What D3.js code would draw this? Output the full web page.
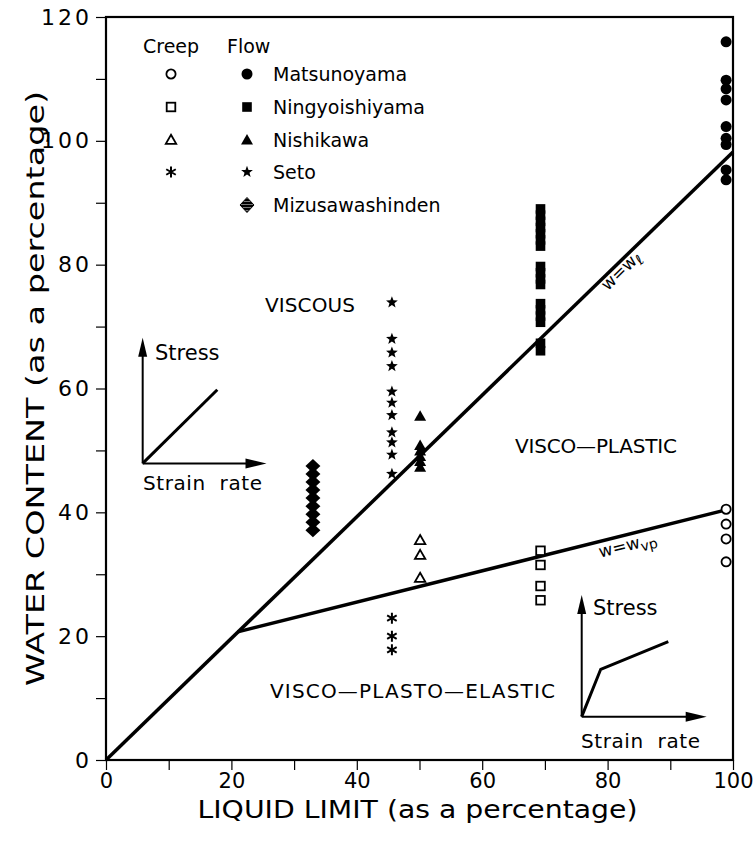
<!DOCTYPE html>
<html><head><meta charset="utf-8">
<script src="https://cdn.jsdelivr.net/npm/d3@7"></script>
<style>
body{margin:0;background:#fff;}
svg{display:block;font-family:"DejaVu Sans",sans-serif;}
</style></head>
<body>
<svg id="chart" width="755" height="841"></svg>
<script>
// ---------- data ----------
const xTickValues = [0,10,20,30,40,50,60,70,80,90,100];
const yTickValues = [0,10,20,30,40,50,60,70,80,90,100,110,120];
const xLabelTicks = [0,20,40,60,80,100];
const yLabelTicks = [0,20,40,60,80,100,120];

// liquid limits of each site
const llMatsunoyama = 98.9;
const llNingyoishiyama = 69.3;
const llNishikawa = 50.1;
const llSeto = 45.6;
const llMizusawashinden = 33.0;

// water contents (flow = filled, creep = open)
const matsunoyamaFlow = [116.0,109.8,108.4,106.6,102.3,100.4,99.4,95.3,93.7];
const matsunoyamaCreep = [40.5,38.1,35.7,32.0];
const ningyoishiyamaFlow = [89,88,87,86,85,84,83,79.7,78.7,77.7,76.8,73.7,72.7,71.7,70.7,67.3,66.1];
const ningyoishiyamaCreep = [33.8,31.5,28.1,25.8];
const nishikawaFlow = [55.5,50.8,49.9,49.0,48.2,47.3];
const nishikawaCreep = [35.5,33.1,29.4];
const setoFlow = [73.9,68.0,65.8,63.6,59.5,57.7,55.7,52.9,51.3,49.3,46.2];
const setoCreep = [22.9,20.0,17.8];
const mizusawashindenFlow = [47.5,46.2,44.9,43.6,42.3,41.0,39.7,38.4,37.1];

// boundary lines
const lineWL = [[0,0],[100,98.2]];
const lineWVP = [[21,20.7],[98.9,40.4]];

const legendSites = ["Matsunoyama","Ningyoishiyama","Nishikawa","Seto","Mizusawashinden"];

// ---------- layout ----------
const svg = d3.select("#chart");
const L=106, R=733, T=17, B=760;
const x = d3.scaleLinear().domain([0,100]).range([L,R]);
const y = d3.scaleLinear().domain([0,120]).range([B,T]);

// pattern for legend diamond
const defs = svg.append("defs");
const pat = defs.append("pattern").attr("id","hatch").attr("patternUnits","userSpaceOnUse")
  .attr("width",4).attr("height",3);
pat.append("rect").attr("width",4).attr("height",3).attr("fill","#000");
pat.append("rect").attr("y",2).attr("width",4).attr("height",1).attr("fill","#777");

// axes
const xAxis = d3.axisBottom(x).tickValues(xTickValues).tickSize(10).tickPadding(3)
  .tickFormat(d => xLabelTicks.includes(d) ? d : "");
const yAxis = d3.axisLeft(y).tickValues(yTickValues).tickSize(10).tickPadding(4)
  .tickFormat(d => yLabelTicks.includes(d) ? d : "");
const gx = svg.append("g").attr("transform",`translate(0,${B})`).call(xAxis);
const gy = svg.append("g").attr("transform",`translate(${L},0)`).call(yAxis);
[gx,gy].forEach(g=>{
  g.select(".domain").remove();
  g.selectAll(".tick line").attr("stroke","#000").attr("stroke-width",1.2);
  g.selectAll(".tick text").attr("font-size",22).attr("fill","#000")
   .attr("font-family","DejaVu Sans");
});
gy.selectAll(".tick text").attr("letter-spacing",3);
gx.selectAll(".tick text").attr("font-size",21);

// frame
svg.append("rect").attr("x",L).attr("y",T).attr("width",R-L).attr("height",B-T)
  .attr("fill","none").attr("stroke","#000").attr("stroke-width",2.2);

// axis titles
svg.append("text").attr("x",(L+R)/2-2).attr("y",818).attr("text-anchor","middle")
  .attr("font-size",25).attr("textLength",440).attr("lengthAdjust","spacingAndGlyphs")
  .text("LIQUID LIMIT (as a percentage)");
svg.append("text").attr("transform",`translate(44,${(T+B)/2}) rotate(-90)`)
  .attr("text-anchor","middle").attr("font-size",25)
  .attr("textLength",595).attr("lengthAdjust","spacingAndGlyphs")
  .text("WATER CONTENT (as a percentage)");

// boundary lines
const line = d3.line().x(d=>x(d[0])).y(d=>y(d[1]));
svg.append("path").attr("d",line(lineWL)).attr("fill","none").attr("stroke","#000").attr("stroke-width",3.5);
svg.append("path").attr("d",line(lineWVP)).attr("fill","none").attr("stroke","#000").attr("stroke-width",3.5);

// ---------- marker generators ----------
function star(r){ // five-pointed star
  const pts=[]; for(let i=0;i<10;i++){const a=-Math.PI/2+i*Math.PI/5; const rr=i%2? r*0.42:r; pts.push([rr*Math.cos(a),rr*Math.sin(a)]);}
  return "M"+pts.map(p=>p.join(",")).join("L")+"Z";
}
function tri(r){ return `M0,${-r}L${r*1.0},${r*0.75}L${-r*1.0},${r*0.75}Z`; }
function diamond(w,h){ return `M0,${-h}L${w},0L0,${h}L${-w},0Z`; }
function asterisk(r){
  const a=Math.PI/6;
  return `M0,${-r}L0,${r}M${-r*Math.cos(a)},${-r*Math.sin(a)}L${r*Math.cos(a)},${r*Math.sin(a)}M${-r*Math.cos(a)},${r*Math.sin(a)}L${r*Math.cos(a)},${-r*Math.sin(a)}`;
}
const markers = {
  circleF: s=>s.append("circle").attr("r",5.5).attr("fill","#000"),
  circleO: s=>s.append("circle").attr("r",4.6).attr("fill","#fff").attr("stroke","#000").attr("stroke-width",1.8),
  squareF: s=>s.append("rect").attr("x",-4.8).attr("y",-4.8).attr("width",9.6).attr("height",9.6).attr("fill","#000"),
  squareO: s=>s.append("rect").attr("x",-4.3).attr("y",-4.3).attr("width",8.6).attr("height",8.6).attr("fill","#fff").attr("stroke","#000").attr("stroke-width",1.8),
  triF: s=>s.append("path").attr("d",tri(6)).attr("fill","#000"),
  triO: s=>s.append("path").attr("d",tri(5.2)).attr("fill","#fff").attr("stroke","#000").attr("stroke-width",1.8),
  starF: s=>s.append("path").attr("d",star(6.2)).attr("fill","#000"),
  asterisk: s=>s.append("path").attr("d",asterisk(5.5)).attr("fill","none").attr("stroke","#000").attr("stroke-width",2),
  diamondF: s=>s.append("path").attr("d",diamond(7.5,7)).attr("fill","#000"),
  diamondL: s=>s.append("path").attr("d",diamond(7,7.5)).attr("fill","url(#hatch)").attr("stroke","#000").attr("stroke-width",1)
};

function plotSeries(ll, vals, kind){
  const g = svg.append("g");
  vals.forEach(v=>{
    const m = g.append("g").attr("transform",`translate(${x(ll)},${y(v)})`);
    markers[kind](m);
  });
}
plotSeries(llMizusawashinden, mizusawashindenFlow, "diamondF");
plotSeries(llSeto, setoFlow, "starF");
plotSeries(llSeto, setoCreep, "asterisk");
plotSeries(llNishikawa, nishikawaFlow, "triF");
plotSeries(llNishikawa, nishikawaCreep, "triO");
plotSeries(llNingyoishiyama, ningyoishiyamaFlow, "squareF");
plotSeries(llNingyoishiyama, ningyoishiyamaCreep, "squareO");
plotSeries(llMatsunoyama, matsunoyamaFlow, "circleF");
plotSeries(llMatsunoyama, matsunoyamaCreep, "circleO");

// ---------- legend ----------
const lg = svg.append("g").attr("font-size",19);
lg.append("text").attr("x",143).attr("y",53).text("Creep");
lg.append("text").attr("x",227).attr("y",53).text("Flow");
const rowY = [74,107,140,172,205];
const creepKinds = ["circleO","squareO","triO","asterisk",null];
const flowKinds = ["circleF","squareF","triF","starF","diamondL"];
legendSites.forEach((name,i)=>{
  if(creepKinds[i]) markers[creepKinds[i]](lg.append("g").attr("transform",`translate(171,${rowY[i]})`));
  markers[flowKinds[i]](lg.append("g").attr("transform",`translate(247,${rowY[i]})`));
  lg.append("text").attr("x",273).attr("y",rowY[i]+7).text(name);
});

// ---------- region labels ----------
svg.append("text").attr("x",265).attr("y",312).attr("font-size",20).attr("textLength",90).text("VISCOUS");
svg.append("text").attr("x",515).attr("y",453).attr("font-size",20).attr("textLength",162).text("VISCO\u2014PLASTIC");
svg.append("text").attr("x",270).attr("y",698).attr("font-size",20).attr("textLength",285).text("VISCO\u2014PLASTO\u2014ELASTIC");

// line labels
const angWL = Math.atan2(y(lineWL[1][1])-y(lineWL[0][1]), x(lineWL[1][0])-x(lineWL[0][0]))*180/Math.PI;
const tWL = svg.append("text").attr("font-size",17)
  .attr("transform",`translate(${x(80.5)-3},${y(80.5*0.982)+21}) rotate(${angWL})`);
tWL.append("tspan").text("w=w");
tWL.append("tspan").attr("font-size",14).attr("dy",4).attr("font-style","italic").text("\u2113");

const angVP = Math.atan2(y(lineWVP[1][1])-y(lineWVP[0][1]), x(lineWVP[1][0])-x(lineWVP[0][0]))*180/Math.PI;
const vpX = 78.5, vpY = lineWVP[0][1] + (vpX-lineWVP[0][0])*(lineWVP[1][1]-lineWVP[0][1])/(lineWVP[1][0]-lineWVP[0][0]);
const tVP = svg.append("text").attr("font-size",17)
  .attr("transform",`translate(${x(vpX)+2},${y(vpY)+16}) rotate(${angVP})`);
tVP.append("tspan").text("w=w");
tVP.append("tspan").attr("font-size",14).attr("dy",4).text("vp");

// ---------- insets (stress vs strain rate schematics) ----------
const inset1 = {origin:[5.85,47.9], yTip:68.2, xTip:25.6, curve:[[5.85,47.9],[17.75,59.8]], stress:[155,360], strain:[143,490]};
const inset2 = {origin:[75.87,7.0], yTip:26.66, xTip:95.8, curve:[[75.87,7.0],[78.9,14.65],[89.68,19.11]], stress:[593,615], strain:[581,748]};
function drawInset(ins){
  const g = svg.append("g");
  const ox = x(ins.origin[0]), oy = y(ins.origin[1]);
  const ty = y(ins.yTip), tx = x(ins.xTip);
  g.append("line").attr("x1",ox).attr("y1",oy).attr("x2",ox).attr("y2",ty+14).attr("stroke","#000").attr("stroke-width",2);
  g.append("path").attr("d",`M${ox},${ty}L${ox+4.5},${ty+19}L${ox-4.5},${ty+19}Z`).attr("fill","#000");
  g.append("line").attr("x1",ox).attr("y1",oy).attr("x2",tx-14).attr("y2",oy).attr("stroke","#000").attr("stroke-width",2);
  g.append("path").attr("d",`M${tx},${oy}L${tx-21},${oy-5}L${tx-21},${oy+5}Z`).attr("fill","#000");
  g.append("path").attr("d",line(ins.curve)).attr("fill","none").attr("stroke","#000").attr("stroke-width",3);
  g.append("text").attr("x",ins.stress[0]).attr("y",ins.stress[1]).attr("font-size",21).text("Stress");
  g.append("text").attr("x",ins.strain[0]).attr("y",ins.strain[1]).attr("font-size",20)
    .attr("textLength",119).attr("lengthAdjust","spacing").attr("style","white-space:pre").text("Strain  rate");
}
drawInset(inset1);
drawInset(inset2);
</script>
</body></html>
